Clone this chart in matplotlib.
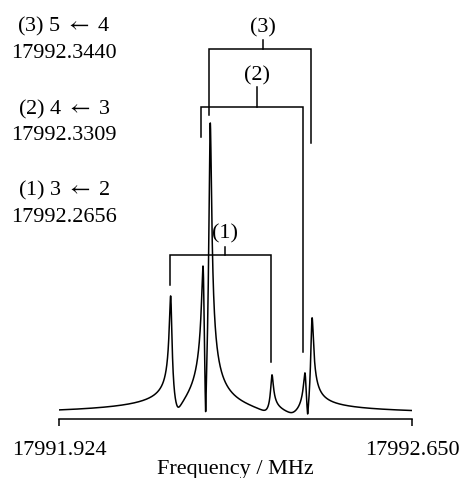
import numpy as np
import matplotlib
matplotlib.use("Agg")
import matplotlib.pyplot as plt

# ------------------------------------------------------------
# data
# ------------------------------------------------------------
f_min, f_max = 17991.924, 17992.650

# Doppler components (MHz), peak amplitudes (normalised), phases (rad)
peak_freq = [17992.1535, 17992.2207, 17992.2345, 17992.3616, 17992.4302, 17992.4440]
peak_amp = [0.435, 0.56, 1.05, 0.125, 0.156, 0.344]
peak_phase = [0.0, 0.2, 0.95, 0.2, -0.2, 0.59]
gamma = 0.0027  # half width, MHz

# transitions
line_label = ["(1)", "(2)", "(3)"]
line_center = [17992.2656, 17992.3309, 17992.3440]
leg_left = [17992.1521, 17992.2159, 17992.2330]
leg_right = [17992.3601, 17992.4261, 17992.4425]
bar_y = [0.548, 1.050, 1.248]
stem_y = [0.576, 1.120, 1.279]
leg_left_end = [0.446, 0.949, 1.024]
leg_right_end = [0.185, 0.218, 0.929]
label_y = [0.620, 1.156, 1.319]

side_text = ["(3) 5 $\\leftarrow$ 4", "17992.3440",
             "(2) 4 $\\leftarrow$ 3", "17992.3309",
             "(1) 3 $\\leftarrow$ 2", "17992.2656"]
side_y_px = [26, 53, 109, 135, 190, 217]

serif = ["Liberation Serif", "DejaVu Serif"]
plt.rcParams["font.family"] = serif
plt.rcParams["mathtext.fontset"] = "stix"
plt.rcParams["font.size"] = 16

# ------------------------------------------------------------
# magnitude spectrum
# ------------------------------------------------------------
freq = np.linspace(f_min, f_max, 4000)
z = np.zeros_like(freq, dtype=complex)
for f0, a, ph in zip(peak_freq, peak_amp, peak_phase):
    z += a * np.exp(1j * ph) * gamma / (gamma + 1j * (freq - f0))
spec = np.abs(z)

# ------------------------------------------------------------
# figure
# ------------------------------------------------------------
W, H = 460, 478
fig = plt.figure(figsize=(W / 100, H / 100), dpi=100)
ax = fig.add_axes([59.3 / W, (H - 419) / H, (412 - 59.3) / W, 419 / H])
ax.set_xlim(f_min, f_max)
ax.set_ylim(-3 / 294, 416 / 294)

ax.plot(freq, spec, color="black", lw=1.1)

for i in range(3):
    ax.plot([leg_left[i], leg_left[i], leg_right[i], leg_right[i]],
            [leg_left_end[i], bar_y[i], bar_y[i], leg_right_end[i]],
            color="black", lw=1.1, solid_joinstyle="miter")
    ax.plot([line_center[i], line_center[i]], [bar_y[i], stem_y[i]],
            color="black", lw=1.1)
    ax.text(line_center[i], label_y[i], line_label[i],
            ha="center", va="center")

for s, y in zip(side_text, side_y_px):
    fig.text(64 / W, 1 - y / H, s, ha="center", va="center")

for side in ["top", "left", "right"]:
    ax.spines[side].set_visible(False)
ax.spines["bottom"].set_linewidth(1.1)
ax.set_yticks([])
ax.set_xticks([f_min, f_max])
ax.set_xticklabels(["17991.924", "17992.650"])
ax.tick_params(axis="x", direction="out", length=5, width=1.1, pad=11)
ax.set_xlabel("Frequency / MHz", labelpad=0)

fig.savefig("out.png", dpi=100)
